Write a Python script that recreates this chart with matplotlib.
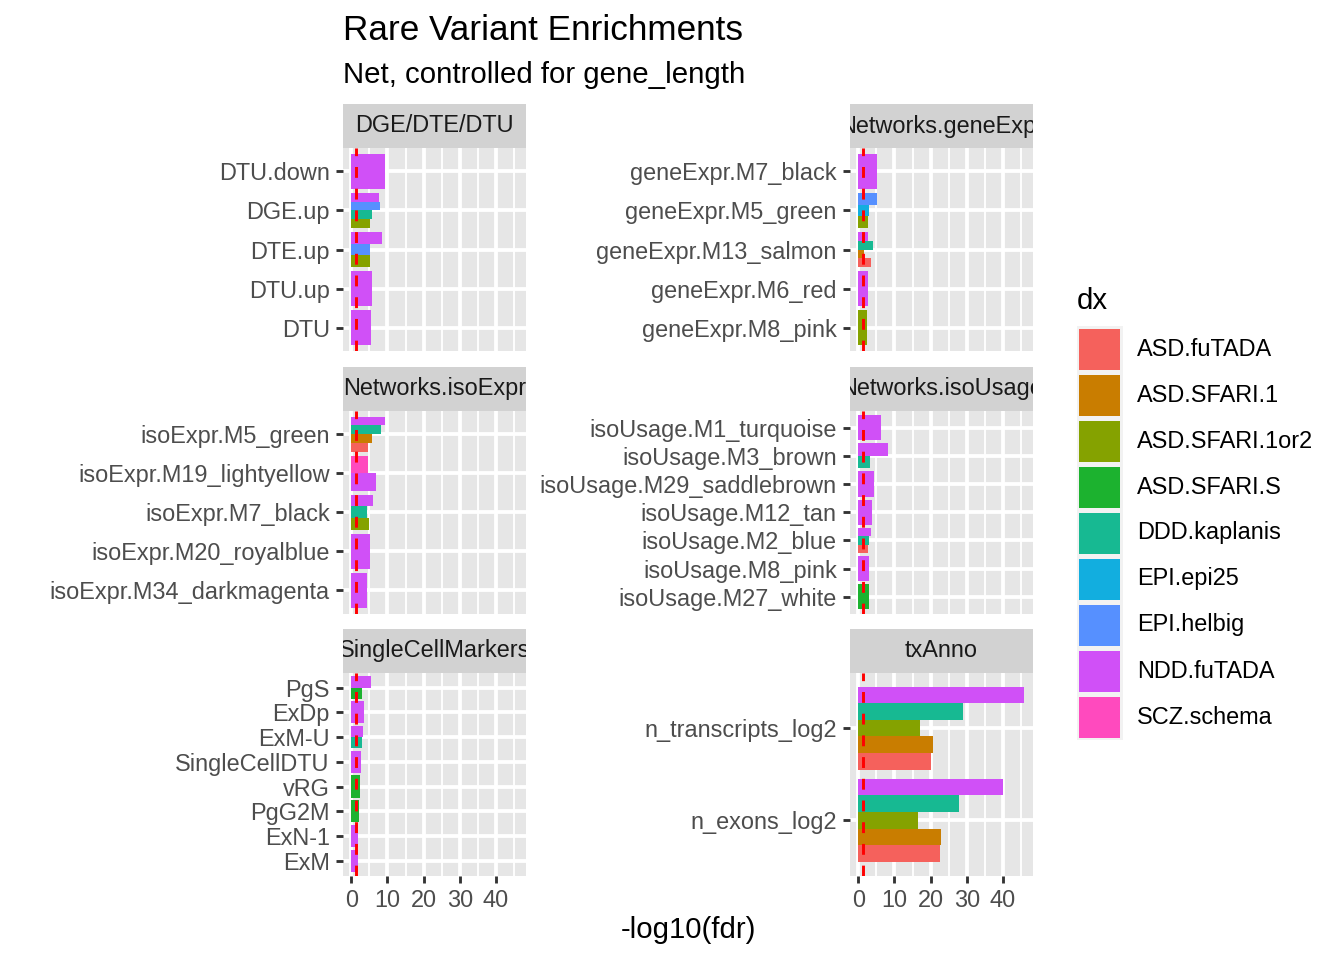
import matplotlib
matplotlib.use('Agg')
import matplotlib.pyplot as plt
from matplotlib.patches import Rectangle

plt.rcParams['font.family'] = ['Liberation Sans', 'DejaVu Sans']

# dx levels and fill colours (ggplot hue palette, as rendered)
dx_levels = ['ASD.fuTADA', 'ASD.SFARI.1', 'ASD.SFARI.1or2', 'ASD.SFARI.S',
             'DDD.kaplanis', 'EPI.epi25', 'EPI.helbig', 'NDD.fuTADA', 'SCZ.schema']
dx_colors = ['#F5615C', '#C97D00', '#85A200', '#1CB22F', '#17B992',
             '#12AEDF', '#5690FF', '#D050F7', '#FF4ABE']

# facet: DGE/DTE/DTU (terms listed top to bottom)
dge_order = ['DTU.down', 'DGE.up', 'DTE.up', 'DTU.up', 'DTU']
dge_term = ['DTU.down', 'DGE.up', 'DGE.up', 'DGE.up', 'DGE.up',
            'DTE.up', 'DTE.up', 'DTE.up', 'DTU.up', 'DTU']
dge_dx = ['NDD.fuTADA', 'NDD.fuTADA', 'EPI.helbig', 'DDD.kaplanis', 'ASD.SFARI.1or2',
          'NDD.fuTADA', 'EPI.helbig', 'ASD.SFARI.1or2', 'NDD.fuTADA', 'NDD.fuTADA']
dge_val = [9.3, 7.7, 8.0, 5.8, 5.2, 8.5, 5.2, 5.2, 5.8, 5.5]

# facet: Networks.geneExpr
gene_order = ['geneExpr.M7_black', 'geneExpr.M5_green', 'geneExpr.M13_salmon',
              'geneExpr.M6_red', 'geneExpr.M8_pink']
gene_term = ['geneExpr.M7_black', 'geneExpr.M5_green', 'geneExpr.M5_green', 'geneExpr.M5_green',
             'geneExpr.M13_salmon', 'geneExpr.M13_salmon', 'geneExpr.M13_salmon',
             'geneExpr.M13_salmon', 'geneExpr.M6_red', 'geneExpr.M8_pink']
gene_dx = ['NDD.fuTADA', 'EPI.helbig', 'EPI.epi25', 'ASD.SFARI.1or2',
           'NDD.fuTADA', 'DDD.kaplanis', 'ASD.SFARI.1', 'ASD.fuTADA',
           'NDD.fuTADA', 'ASD.SFARI.1or2']
gene_val = [5.2, 5.2, 3.0, 2.75, 2.75, 4.1, 1.7, 3.6, 2.75, 2.5]

# facet: Networks.isoExpr
isoe_order = ['isoExpr.M5_green', 'isoExpr.M19_lightyellow', 'isoExpr.M7_black',
              'isoExpr.M20_royalblue', 'isoExpr.M34_darkmagenta']
isoe_term = ['isoExpr.M5_green', 'isoExpr.M5_green', 'isoExpr.M5_green', 'isoExpr.M5_green',
             'isoExpr.M19_lightyellow', 'isoExpr.M19_lightyellow',
             'isoExpr.M7_black', 'isoExpr.M7_black', 'isoExpr.M7_black',
             'isoExpr.M20_royalblue', 'isoExpr.M34_darkmagenta']
isoe_dx = ['NDD.fuTADA', 'DDD.kaplanis', 'ASD.SFARI.1', 'ASD.fuTADA',
           'SCZ.schema', 'NDD.fuTADA',
           'NDD.fuTADA', 'DDD.kaplanis', 'ASD.SFARI.1or2',
           'NDD.fuTADA', 'NDD.fuTADA']
isoe_val = [9.3, 8.2, 5.8, 4.7, 4.7, 6.9, 6.0, 4.4, 4.9, 5.2, 4.4]

# facet: Networks.isoUsage
isou_order = ['isoUsage.M1_turquoise', 'isoUsage.M3_brown', 'isoUsage.M29_saddlebrown',
              'isoUsage.M12_tan', 'isoUsage.M2_blue', 'isoUsage.M8_pink', 'isoUsage.M27_white']
isou_term = ['isoUsage.M1_turquoise', 'isoUsage.M3_brown', 'isoUsage.M3_brown',
             'isoUsage.M29_saddlebrown', 'isoUsage.M12_tan',
             'isoUsage.M2_blue', 'isoUsage.M2_blue', 'isoUsage.M2_blue',
             'isoUsage.M8_pink', 'isoUsage.M27_white']
isou_dx = ['NDD.fuTADA', 'NDD.fuTADA', 'DDD.kaplanis', 'NDD.fuTADA', 'NDD.fuTADA',
           'NDD.fuTADA', 'DDD.kaplanis', 'ASD.fuTADA', 'NDD.fuTADA', 'ASD.SFARI.S']
isou_val = [6.3, 8.2, 3.3, 4.4, 3.85, 3.6, 3.0, 2.75, 3.0, 3.0]

# facet: SingleCellMarkers
sc_order = ['PgS', 'ExDp', 'ExM-U', 'SingleCellDTU', 'vRG', 'PgG2M', 'ExN-1', 'ExM']
sc_term = ['PgS', 'PgS', 'ExDp', 'ExM-U', 'ExM-U', 'SingleCellDTU', 'vRG', 'PgG2M', 'ExN-1', 'ExM']
sc_dx = ['NDD.fuTADA', 'ASD.SFARI.S', 'NDD.fuTADA', 'NDD.fuTADA', 'DDD.kaplanis',
         'NDD.fuTADA', 'ASD.SFARI.S', 'ASD.SFARI.S', 'NDD.fuTADA', 'NDD.fuTADA']
sc_val = [5.5, 3.0, 3.6, 3.3, 3.0, 2.75, 2.5, 2.2, 1.9, 1.9]

# facet: txAnno
tx_order = ['n_transcripts_log2', 'n_exons_log2']
tx_term = ['n_transcripts_log2'] * 5 + ['n_exons_log2'] * 5
tx_dx = ['NDD.fuTADA', 'DDD.kaplanis', 'ASD.SFARI.1or2', 'ASD.SFARI.1', 'ASD.fuTADA'] * 2
tx_val = [45.9, 28.8, 17.0, 20.6, 20.05, 40.1, 27.7, 16.5, 22.8, 22.5]

fdr_cut = 1.3  # -log10(0.05)

facets = [
    ('DGE/DTE/DTU', dge_order, dge_term, dge_dx, dge_val),
    ('Networks.geneExpr', gene_order, gene_term, gene_dx, gene_val),
    ('Networks.isoExpr', isoe_order, isoe_term, isoe_dx, isoe_val),
    ('Networks.isoUsage', isou_order, isou_term, isou_dx, isou_val),
    ('SingleCellMarkers', sc_order, sc_term, sc_dx, sc_val),
    ('txAnno', tx_order, tx_term, tx_dx, tx_val),
]

W, H = 1344, 960
fig = plt.figure(figsize=(7, 5), dpi=192)

col_left = [343, 850]
panel_w = 182.7
row_top = [148, 410.7, 672.7]
panel_h = 203
strip_h = 44

all_vals = [v for f in facets for v in f[4]]
xmax = max(all_vals)
pad = 0.05 * xmax
xlim = (0 - pad, xmax + pad)

txt_grey = '#4D4D4D'

for k, (name, order, term, dx, val) in enumerate(facets):
    r, c = divmod(k, 2)
    x0 = col_left[c]
    y0 = row_top[r]
    ax = fig.add_axes([x0 / W, 1 - (y0 + panel_h) / H, panel_w / W, panel_h / H])
    ax.set_facecolor('#E6E6E6')
    for s in ax.spines.values():
        s.set_visible(False)

    n = len(order)
    ypos = {t: n - i for i, t in enumerate(order)}
    for t in order:
        rows = [(dx_levels.index(d), v) for tt, d, v in zip(term, dx, val) if tt == t]
        rows.sort()
        m = len(rows)
        h = 0.9 / m
        for i, (li, v) in enumerate(rows):
            yc = ypos[t] - 0.45 + (i + 0.5) * h
            ax.barh(yc, v, height=h, color=dx_colors[li], zorder=3)

    ax.axvline(fdr_cut, color='red', lw=1.1, linestyle=(0, (3.7, 3.7)), zorder=4)

    ax.set_xlim(*xlim)
    ax.set_ylim(0.4, n + 0.6)
    ax.set_xticks([0, 10, 20, 30, 40])
    ax.set_xticks([5, 15, 25, 35, 45], minor=True)
    ax.set_yticks([ypos[t] for t in order])
    ax.set_yticklabels(order)
    ax.grid(which='major', color='white', lw=1.42, zorder=0)
    ax.grid(which='minor', axis='x', color='white', lw=0.71, zorder=0)
    ax.set_axisbelow(True)
    ax.tick_params(axis='both', which='major', length=2.75, width=1.07, color='#333333',
                   labelsize=8.8, labelcolor=txt_grey, pad=2.2)
    ax.tick_params(axis='both', which='minor', length=0)
    if r < 2:
        ax.tick_params(axis='x', which='major', length=0, labelbottom=False)

    # strip
    sax = fig.add_axes([x0 / W, 1 - y0 / H, panel_w / W, strip_h / H])
    sax.set_facecolor('#D2D2D2')
    sax.set_xticks([])
    sax.set_yticks([])
    for s in sax.spines.values():
        s.set_visible(False)
    sax.text(0.5, 0.5, name, ha='center', va='center', fontsize=8.8,
             color='#1A1A1A', transform=sax.transAxes, clip_on=True)

# overlay for titles and legend
ov = fig.add_axes([0, 0, 1, 1], facecolor='none')
ov.set_xlim(0, W)
ov.set_ylim(H, 0)
ov.axis('off')

ov.text(343, 40, 'Rare Variant Enrichments', fontsize=13.2, ha='left', va='baseline', color='black')
ov.text(343, 83, 'Net, controlled for gene_length', fontsize=11, ha='left', va='baseline', color='black')
ov.text(688, 930, '-log10(fdr)', fontsize=11, ha='center', va='center', color='black')

ov.text(1077, 301, 'dx', fontsize=11, ha='left', va='center', color='black')
key_top = 326
key = 46
for i, (lab, col) in enumerate(zip(dx_levels, dx_colors)):
    yt = key_top + i * key
    ov.add_patch(Rectangle((1076.5, yt), key, key, facecolor='#F2F2F2', edgecolor='none'))
    ov.add_patch(Rectangle((1076.5 + 2.5, yt + 2.5), key - 5, key - 5, facecolor=col, edgecolor='none'))
    ov.text(1137, yt + key / 2, lab, fontsize=8.8, ha='left', va='center', color='black')

fig.savefig('out.png', dpi=192)
